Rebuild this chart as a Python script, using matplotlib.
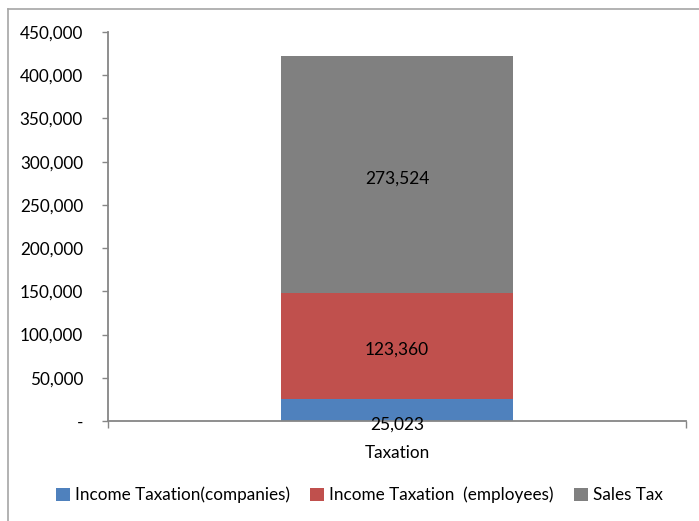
import matplotlib.pyplot as plt
from matplotlib.lines import Line2D
from matplotlib.ticker import FuncFormatter

plt.rcParams['font.family'] = ['Lato', 'DejaVu Sans']

category = 'Taxation'
series_names = ['Income Taxation(companies)', 'Income Taxation  (employees)', 'Sales Tax']
series_values = [25023, 123360, 273524]
series_colors = ['#4F81BD', '#C0504D', '#808080']
y_ticks = [0, 50000, 100000, 150000, 200000, 250000, 300000, 350000, 400000, 450000]

AXIS_COLOR = '#868686'

fig = plt.figure(figsize=(6.99, 5.21), dpi=100)
ax = fig.add_axes([108 / 699, 1 - 421 / 521, 578 / 699, 389 / 521])

# stacked segments
bottom = 0
bars = []
for name, value, color in zip(series_names, series_values, series_colors):
  b = ax.bar(0, value, width=0.4, bottom=bottom, color=color, label=name)
  bars.append(b)
  # value label in the middle of the segment
  mid = bottom + value / 2
  offset = -14 if value < 40000 else -4
  ax.annotate(f'{value:,}', (0, mid), xytext=(0, offset), textcoords='offset pixels',
              ha='center', va='center', fontsize=12.5, color='black')
  bottom += value

ax.set_xlim(-0.5, 0.5)
ax.set_ylim(0, 450000)
ax.set_yticks(y_ticks)
ax.yaxis.set_major_formatter(FuncFormatter(lambda v, p: '-' if v == 0 else f'{int(v):,}'))

ax.set_xticks([0])
ax.set_xticklabels([category])
ax.set_xticks([-0.5, 0.5], minor=True)

for side in ['top', 'right']:
  ax.spines[side].set_visible(False)
for side in ['left', 'bottom']:
  ax.spines[side].set_color(AXIS_COLOR)
  ax.spines[side].set_linewidth(1.3)

ax.tick_params(axis='y', direction='out', length=4, width=1, color=AXIS_COLOR,
               labelsize=12.3, pad=14)
ax.tick_params(axis='x', which='major', length=0, labelsize=12.3, pad=17)
ax.tick_params(axis='x', which='minor', direction='out', length=5, width=1, color=AXIS_COLOR)

# outer chart border
fig.add_artist(Line2D([8 / 699, 8 / 699], [0, 1 - 9 / 521], color='#a6a6a6', lw=1.2))
fig.add_artist(Line2D([8 / 699, 1], [1 - 9 / 521, 1 - 9 / 521], color='#a6a6a6', lw=1.2))

fig.legend(handles=[b[0] for b in bars], labels=series_names, loc='center',
           bbox_to_anchor=(0.514, 1 - 495 / 521), ncol=3, frameon=False, fontsize=12.3,
           handlelength=0.8, handleheight=0.8, handletextpad=0.3, columnspacing=1.2)

fig.savefig('out.png', dpi=100, facecolor='white')
